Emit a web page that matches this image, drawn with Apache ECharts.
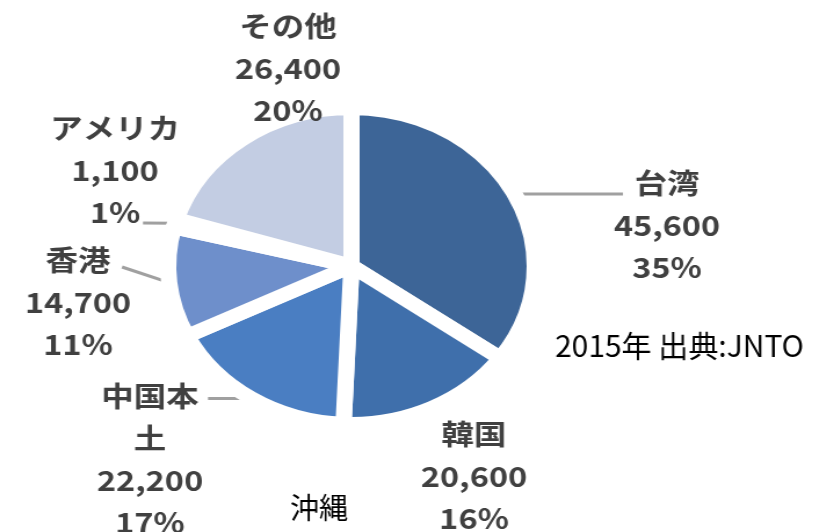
<!DOCTYPE html>
<html>
<head>
<meta charset="utf-8">
<title>沖縄 2015</title>
<script src="https://cdn.jsdelivr.net/npm/echarts@6/dist/echarts.min.js"></script>
<style>
  html, body { margin: 0; padding: 0; background: #fff; overflow: hidden; }
  #wrap { width: 833px; height: 532px; overflow: hidden; }
  /* the source picture is stretched sideways, so the chart is too */
  #chart { width: 718px; height: 532px; transform: scaleX(1.16); transform-origin: 0 0; }
</style>
</head>
<body>
<div id="wrap"><div id="chart"></div></div>
<script>
const S = 1.16;

const categories = ['台湾', '韓国', '中国本土', '香港', 'アメリカ', 'その他'];
const visitors = [45600, 20600, 22200, 14700, 1100, 26400];
const colors = ['#3d6597', '#3f6fab', '#4a7ec2', '#6e8fcb', '#a9bde0', '#c3cde3'];

// page pixels: centre x of the label block, centre y of its first line
const labelAnchors = [[667, 183], [474, 434], [150, 396], [78, 260], [115, 128], [288, 26]];
// where the leader line ends (null y = keep the start height), null = no line
const lineEnds = [[623, null], null, [208, null], [122, 267], [143, 223], null];

const LH = 42;

const chart = echarts.init(document.getElementById('chart'));

const data = categories.map((name, i) => {
  const item = {
    name: name,
    value: visitors[i],
    itemStyle: { color: colors[i] },
    labelLine: { show: lineEnds[i] != null }
  };
  if (name === '中国本土') {
    item.label = { width: 100, overflow: 'break' };
  }
  return item;
});

chart.setOption({
  animation: false,
  series: [{
    type: 'pie',
    center: [303, 266],
    radius: 158,
    startAngle: 90,
    silent: true,
    itemStyle: { borderColor: '#fff', borderWidth: 14, borderJoin: 'round' },
    label: {
      show: true,
      position: 'outside',
      overflow: 'none',
      formatter: function (p) {
        return p.name + '\n' + p.value.toLocaleString('en-US') + '\n' + Math.round(p.percent) + '%';
      },
      fontFamily: 'Noto Sans CJK JP',
      fontSize: 28,
      fontWeight: 'bold',
      lineHeight: LH,
      color: '#404040',
      align: 'center'
    },
    labelLine: {
      lineStyle: { color: '#a0a0a0', width: 3 }
    },
    labelLayout: function (p) {
      const a = labelAnchors[p.dataIndex];
      const out = { x: a[0] / S, y: a[1] - LH / 2, align: 'center', verticalAlign: 'top' };
      const e = lineEnds[p.dataIndex];
      const pts = p.labelLinePoints;
      if (e && pts) {
        const end = [e[0] / S, e[1] == null ? pts[0][1] : e[1]];
        out.labelLinePoints = [pts[0], end, end];
      }
      return out;
    },
    data: data
  }],
  graphic: [
    {
      type: 'text', x: 555 / S, y: 346, scaleX: 1 / S,
      style: { text: '2015年 出典:JNTO', fontSize: 30, fontFamily: 'Noto Sans CJK JP', fill: '#000', verticalAlign: 'middle' }
    },
    {
      type: 'text', x: 319 / S, y: 508, scaleX: 1 / S,
      style: { text: '沖縄', fontSize: 29, fontFamily: 'Noto Sans CJK JP', fill: '#000', align: 'center', verticalAlign: 'middle' }
    }
  ]
});
</script>
</body>
</html>
